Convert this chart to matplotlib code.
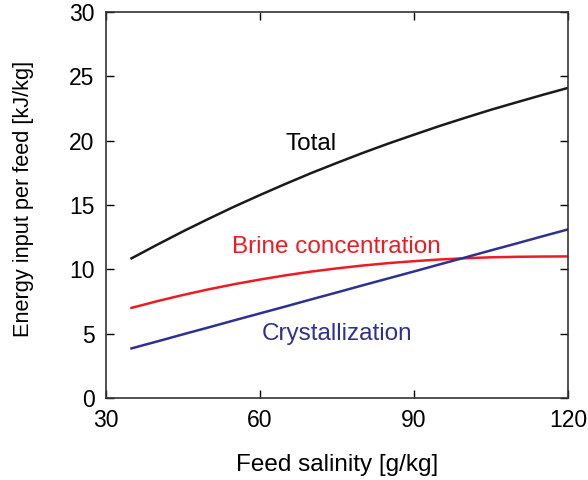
import matplotlib.pyplot as plt
import numpy as np

plt.rcParams['font.family'] = ['Liberation Sans', 'DejaVu Sans']

# feed salinity [g/kg]
salinity = np.arange(35, 121, 5)
# energy input per feed [kJ/kg]
brine = [7.00, 7.52, 8.00, 8.44, 8.84, 9.20, 9.53, 9.82, 10.07,
         10.29, 10.48, 10.63, 10.76, 10.86, 10.93, 10.97, 10.99, 11.00]
cryst = [3.85, 4.39, 4.94, 5.48, 6.03, 6.57, 7.11, 7.66, 8.20,
         8.75, 9.29, 9.83, 10.38, 10.92, 11.47, 12.01, 12.56, 13.10]
total = [10.85, 11.91, 12.94, 13.92, 14.87, 15.77, 16.64, 17.48, 18.27,
         19.04, 19.77, 20.46, 21.14, 21.78, 22.40, 22.98, 23.55, 24.10]

blue = '#2e3192'
red = '#ed1c24'

fig = plt.figure(figsize=(5.88, 4.80), dpi=100)
ax = fig.add_axes([0.180, 0.171, 0.786, 0.804])

ax.plot(salinity, total, color='#1a1a1a', lw=1.8)
ax.plot(salinity, brine, color=red, lw=1.8)
ax.plot(salinity, cryst, color=blue, lw=1.8)

ax.text(69.9, 19.27, 'Total', fontsize=17.5, color='black', ha='center', va='baseline')
ax.text(74.9, 11.27, 'Brine concentration', fontsize=17.5, color=red, ha='center', va='baseline')
ax.text(75.0, 4.5, 'Crystallization', fontsize=17.5, color=blue, ha='center', va='baseline')

ax.set_xlim(30, 120)
ax.set_ylim(0, 30)
ax.set_xticks([30, 60, 90, 120])
ax.set_yticks(np.arange(0, 31, 5))
ax.tick_params(direction='in', top=True, right=True, length=6, width=1,
               labelsize=16.5, pad=8)
for s in ax.spines.values():
    s.set_linewidth(1.2)
    s.set_color('#333333')

ax.set_xlabel('Feed salinity [g/kg]', fontsize=17.5, labelpad=16)
ax.set_ylabel('Energy input per feed [kJ/kg]', fontsize=15.7)
ax.yaxis.set_label_coords(-0.155, 0.516)

fig.savefig('out.png', dpi=100)
